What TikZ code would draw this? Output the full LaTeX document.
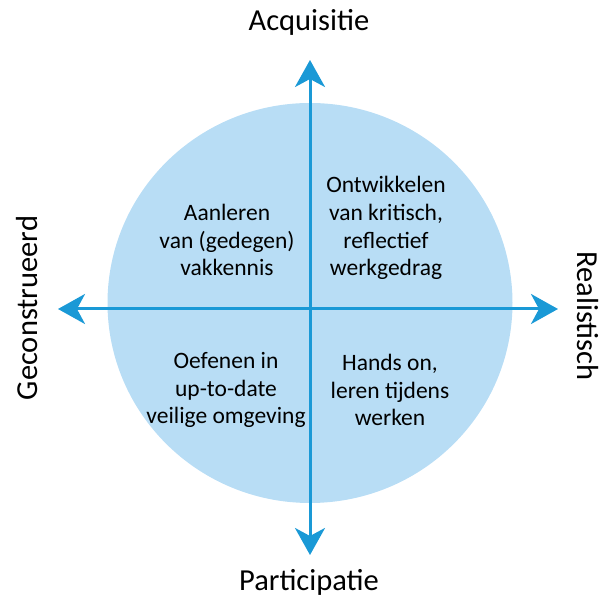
\documentclass[tikz,border=0pt]{standalone}
\usepackage{fontspec}
\setmainfont{Carlito}
\usetikzlibrary{arrows.meta}
\definecolor{discfill}{HTML}{B8DDF5}
\definecolor{axisblue}{HTML}{1A99D6}
\begin{document}
\begin{tikzpicture}[x=1pt,y=-1pt,
  axis/.style={draw=axisblue,line width=3pt,
    -{Stealth[length=27pt,width=30pt,inset=8pt]}},
  quad/.style={align=center,font=\fontsize{23.5}{27.8}\selectfont,inner sep=0pt},
  pole/.style={font=\fontsize{30.5}{34}\selectfont,inner sep=0pt}]
\useasboundingbox (0,0) rectangle (606,601);
\fill[discfill] (310,303) ellipse[x radius=202.5,y radius=200];
% axes
\coordinate (c) at (310,309);
\coordinate (top) at (310,60);
\coordinate (bottom) at (310,555);
\coordinate (left) at (58,309);
\coordinate (right) at (558,309);
\draw[axis] (c) -- (top);
\draw[axis] (c) -- (bottom);
\draw[axis] (c) -- (left);
\draw[axis] (c) -- (right);
% quadrant texts
\node[quad] (ul) at (227,240) {Aanleren\\van (gedegen)\\vakkennis};
\node[quad] (ur) at (386,228) {Ontwikkelen\\van kritisch,\\reflectief\\werkgedrag};
\node[quad] (ll) at (226,390) {Oefenen in\\up-to-date\\veilige omgeving};
\node[quad] (lr) at (390,390) {Hands on,\\leren tijdens\\werken};
% pole labels
\node[pole] (acq) at (309,22) {Acquisitie};
\node[pole] (par) at (309,582) {Participatie};
\node[pole,rotate=90] (geo) at (27,308) {Geconstrueerd};
\node[pole,rotate=-90] (rea) at (588,316) {Realistisch};
\end{tikzpicture}
\end{document}
